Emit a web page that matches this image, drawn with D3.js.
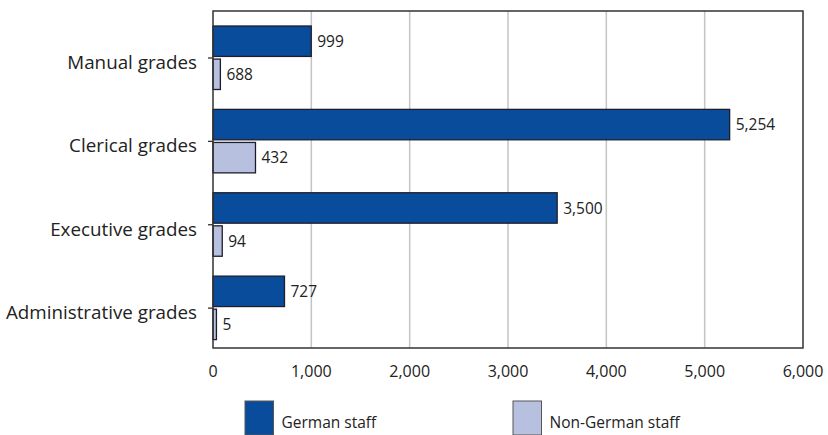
<!DOCTYPE html>
<html><head><meta charset="utf-8">
<script src="https://cdn.jsdelivr.net/npm/d3@7"></script>
<style>body{margin:0;background:#fff}svg{display:block}text{font-family:"Open Sans",sans-serif;fill:#222}</style>
</head><body><svg id="c" width="828" height="435"></svg>
<script>
const categories = ["Manual grades","Clerical grades","Executive grades","Administrative grades"];
const series = ["German staff","Non-German staff"];
// bar lengths as drawn in the picture
const germanValues = [999, 5254, 3500, 727];
const nonGermanValues = [75, 432, 94, 35];
// value labels as printed in the picture
const germanLabels = ["999","5,254","3,500","727"];
const nonGermanLabels = ["688","432","94","5"];
const xTicks = [0,1000,2000,3000,4000,5000,6000];
const colors = ["#0a4c9c","#b8c0e0"];

const svg = d3.select("#c");
const L=213, R=803, T=11, B=348;
const x = d3.scaleLinear().domain([0,6000]).range([L,R]);
const y = d3.scaleBand().domain(categories).range([12,345.5]);
const inner = d3.scaleBand().domain(series).range([14,77.5]).paddingInner(0.08);

// gridlines
svg.append("g").selectAll("line").data(xTicks.slice(1,-1)).join("line")
  .attr("x1",d=>x(d)).attr("x2",d=>x(d)).attr("y1",T).attr("y2",B)
  .attr("stroke","#c4c4c4").attr("stroke-width",1.5);

// bars
const data = [];
categories.forEach((c,i)=>{
  data.push({c,s:series[0],v:germanValues[i],l:germanLabels[i],col:colors[0]});
  data.push({c,s:series[1],v:nonGermanValues[i],l:nonGermanLabels[i],col:colors[1]});
});
svg.append("g").selectAll("rect").data(data).join("rect")
  .attr("x",x(0)).attr("y",d=>y(d.c)+inner(d.s))
  .attr("width",d=>x(d.v)-x(0)).attr("height",inner.bandwidth())
  .attr("fill",d=>d.col).attr("stroke","#1e1e2a").attr("stroke-width",1.3);
svg.append("g").selectAll("text").data(data).join("text")
  .attr("x",d=>x(d.v)+6).attr("y",d=>y(d.c)+inner(d.s)+inner.bandwidth()/2)
  .attr("dy","0.36em").attr("font-size",15.5).text(d=>d.l);

// frame
svg.append("rect").attr("x",L).attr("y",T).attr("width",R-L).attr("height",B-T)
  .attr("fill","none").attr("stroke","#333").attr("stroke-width",1.5);

// y ticks & labels
svg.append("g").selectAll("line").data(categories).join("line")
  .attr("x1",L-5).attr("x2",L).attr("y1",d=>y(d)+46).attr("y2",d=>y(d)+46)
  .attr("stroke","#333").attr("stroke-width",1.3);
svg.append("g").selectAll("text").data(categories).join("text")
  .attr("x",197).attr("y",d=>y(d)+50).attr("dy","0.36em")
  .attr("text-anchor","end").attr("font-size",18.8).text(d=>d);

// x tick labels
svg.append("g").selectAll("text").data(xTicks).join("text")
  .attr("x",d=>x(d)).attr("y",377).attr("text-anchor","middle")
  .attr("font-size",16).text(d=>d3.format(",")(d));

// legend
const lx=[245,513];
series.forEach((s,i)=>{
  svg.append("rect").attr("x",lx[i]).attr("y",401).attr("width",28.5).attr("height",34)
    .attr("fill",colors[i]).attr("stroke","#555").attr("stroke-width",1);
  svg.append("text").attr("x",lx[i]+36.5).attr("y",428).attr("font-size",15.5).text(s);
});
</script></body></html>
